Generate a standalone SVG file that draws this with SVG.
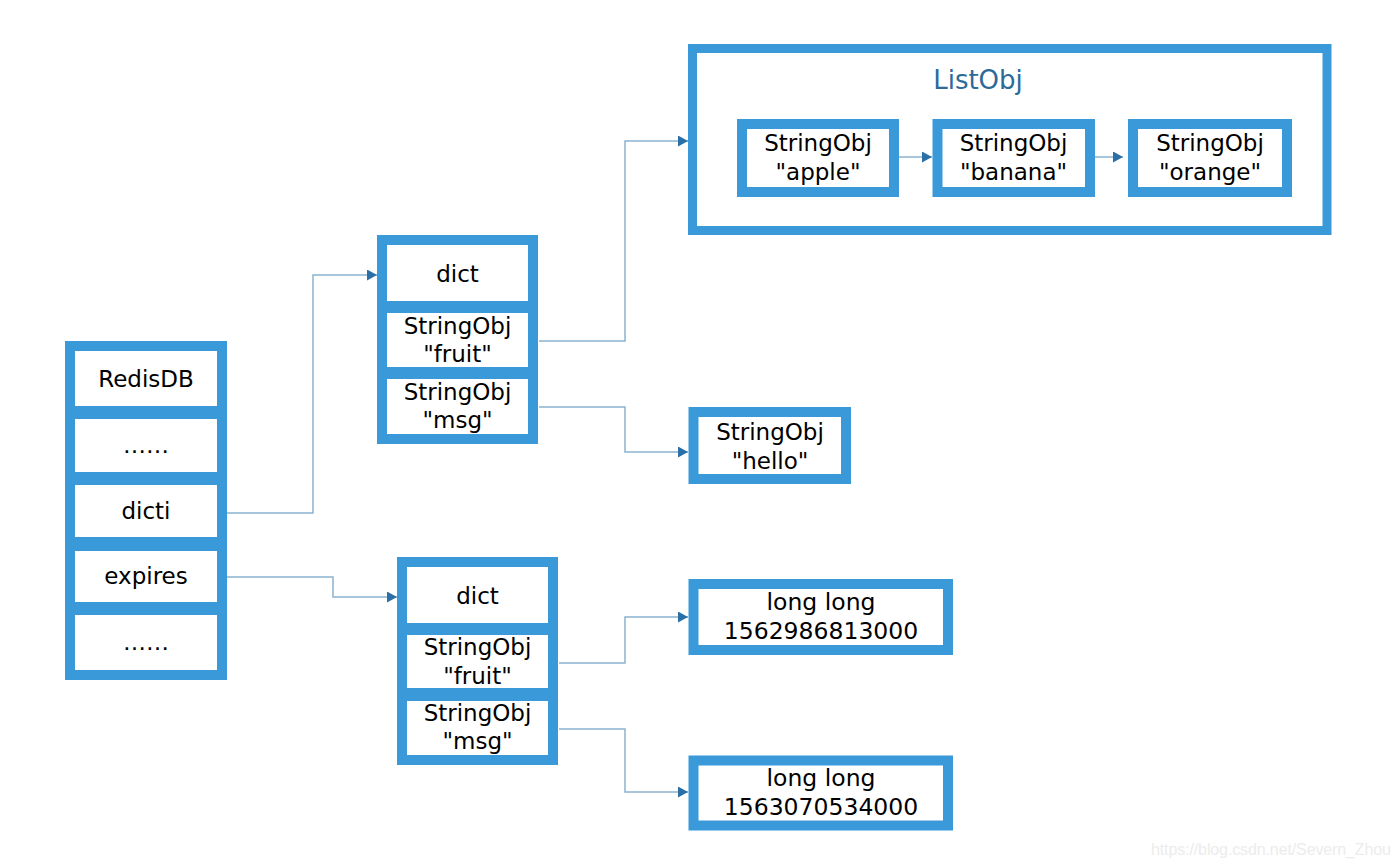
<svg xmlns="http://www.w3.org/2000/svg" width="1400" height="868" viewBox="0 0 1400 868">
  <style>
    .box { fill: #ffffff; stroke: #3a99d8; stroke-width: 10; }
    .list { fill: #ffffff; stroke: #3a99d8; stroke-width: 9; }
    .t { font-family: "DejaVu Sans", "Liberation Sans", sans-serif; font-size: 23px; fill: #000000; text-anchor: middle; }
    .n { font-size: 23.5px; }
    .title { font-family: "DejaVu Sans", "Liberation Sans", sans-serif; font-size: 26px; fill: #2c6a9a; text-anchor: middle; }
    .conn { fill: none; stroke: #8ab3cf; stroke-width: 1.5; marker-end: url(#arr); }
    .wm { font-family: "Liberation Sans", Arial, sans-serif; font-size: 16px; fill: #ececec; }
  </style>
  <defs>
    <marker id="arr" markerUnits="userSpaceOnUse" viewBox="0 0 10 11" markerWidth="10" markerHeight="11" refX="10" refY="5.5" orient="auto">
      <path d="M0,0 L10,5.5 L0,11 z" fill="#2a6fa5"/>
    </marker>
  </defs>
  <rect width="1400" height="868" fill="#ffffff"/>

  <g id="redisdb">
    <rect class="box" x="70" y="346" width="152" height="65"/>
    <rect class="box" x="70" y="414" width="152" height="63"/>
    <rect class="box" x="70" y="480" width="152" height="62"/>
    <rect class="box" x="70" y="546" width="152" height="61"/>
    <rect class="box" x="70" y="610" width="152" height="65"/>
    <text class="t" x="146" y="387">RedisDB</text>
    <text class="t" x="146" y="453">……</text>
    <text class="t" x="146" y="519">dicti</text>
    <text class="t" x="146" y="584">expires</text>
    <text class="t" x="146" y="650">……</text>
  </g>

  <g id="dict1">
    <rect class="box" x="382" y="240" width="151" height="66"/>
    <rect class="box" x="382" y="308" width="151" height="64"/>
    <rect class="box" x="382" y="374" width="151" height="65"/>
    <text class="t" x="457.5" y="282">dict</text>
    <text class="t" x="457.5" y="334">StringObj</text>
    <text class="t" x="457.5" y="362">"fruit"</text>
    <text class="t" x="457.5" y="400">StringObj</text>
    <text class="t" x="457.5" y="428">"msg"</text>
  </g>

  <g id="dict2">
    <rect class="box" x="402" y="562" width="151" height="66"/>
    <rect class="box" x="402" y="630" width="151" height="63"/>
    <rect class="box" x="402" y="696" width="151" height="64"/>
    <text class="t" x="477.5" y="604">dict</text>
    <text class="t" x="477.5" y="655">StringObj</text>
    <text class="t" x="477.5" y="684">"fruit"</text>
    <text class="t" x="477.5" y="721">StringObj</text>
    <text class="t" x="477.5" y="749">"msg"</text>
  </g>

  <g id="listobj">
    <rect class="list" x="692.5" y="48.5" width="634.5" height="182"/>
    <text class="title" x="978" y="89">ListObj</text>
  </g>

  <g id="apple">
    <rect class="box" x="742" y="124" width="152" height="68"/>
    <text class="t" x="818" y="151">StringObj</text>
    <text class="t" x="818" y="180">"apple"</text>
  </g>

  <g id="banana">
    <rect class="box" x="937.5" y="124" width="152.5" height="68"/>
    <text class="t" x="1013.5" y="151">StringObj</text>
    <text class="t" x="1013.5" y="180">"banana"</text>
  </g>

  <g id="orange">
    <rect class="box" x="1133" y="124" width="154" height="68"/>
    <text class="t" x="1210" y="151">StringObj</text>
    <text class="t" x="1210" y="180">"orange"</text>
  </g>

  <g id="hello">
    <rect class="box" x="693.5" y="412" width="152.5" height="67"/>
    <text class="t" x="770" y="440">StringObj</text>
    <text class="t" x="770" y="469">"hello"</text>
  </g>

  <g id="long1">
    <rect class="box" x="693.5" y="584" width="254.5" height="66"/>
    <text class="t n" x="821" y="610">long long</text>
    <text class="t n" x="821" y="639">1562986813000</text>
  </g>

  <g id="long2">
    <rect class="box" x="693.5" y="760.5" width="254.5" height="65"/>
    <text class="t n" x="821" y="786">long long</text>
    <text class="t n" x="821" y="815">1563070534000</text>
  </g>

  <g id="connectors">
    <path class="conn" d="M227,513 H313 V275 H377"/>
    <path class="conn" d="M227,577 H333 V597 H397"/>
    <path class="conn" d="M539,341 H625 V141 H688"/>
    <path class="conn" d="M539,407 H625 V452 H688"/>
    <path class="conn" d="M559,663 H625 V617 H688"/>
    <path class="conn" d="M559,729 H625 V792 H688"/>
    <path class="conn" d="M899,157 H932"/>
    <path class="conn" d="M1095,157 H1123"/>
  </g>

  <text class="wm" x="1151" y="855" textLength="240">https://blog.csdn.net/Severn_Zhou</text>
</svg>
